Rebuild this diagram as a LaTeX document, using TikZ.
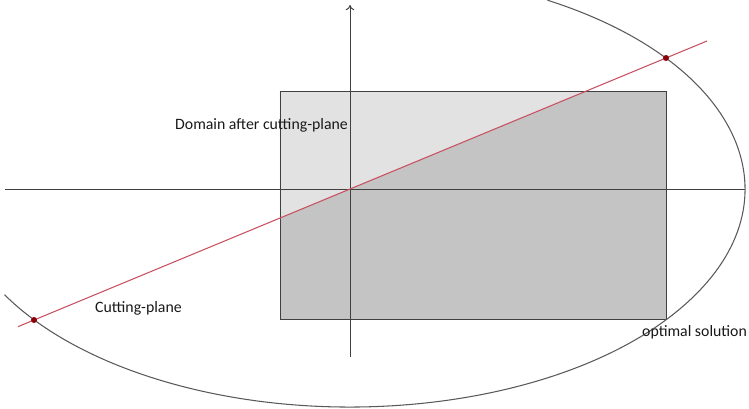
\documentclass[tikz,border=0pt]{standalone}
\usepackage{fontspec}
\setmainfont{Carlito}
\usepackage{tikz}
\usetikzlibrary{arrows.meta,positioning,calc}
\definecolor{axisgray}{RGB}{64,64,64}
\definecolor{cutred}{RGB}{200,80,95}
\definecolor{dotred}{RGB}{140,0,10}
\definecolor{domlight}{RGB}{226,226,226}
\definecolor{domdark}{RGB}{196,196,196}

\begin{document}
\begin{tikzpicture}[every node/.style={font=\fontsize{9}{11}\selectfont, text=black!90},
    axisline/.style={axisgray, line width=0.55pt},
    cutdot/.style={circle, fill=dotred, inner sep=0pt, minimum size=0.12cm}]
    \useasboundingbox (-7,-4.38) rectangle (7.98,3.78);
    \fill[domdark] (-1.4,-2.6) rectangle (6.32,1.96);
    \fill[domlight] (-1.4,-0.58) -- (-1.4,1.96) -- (4.73,1.96) -- cycle;
    \draw[axisgray, line width=0.5pt] (-1.4,-2.6) rectangle (6.32,1.96);
    \draw[axisline] (-6.9,0) -- (7.9,0);
    \draw[axisline, -{To[length=3pt,width=5pt]}] (0,-3.36) -- (0,3.68);
    \draw[black!65, line width=0.6pt] (60:7.9cm and 4.36cm) arc[start angle=60, end angle=-151, x radius=7.9, y radius=4.36];
    \coordinate (cutlow) at (-6.64,-2.753);
    \coordinate (cuthigh) at (7.14,2.96);
    \draw[cutred, line width=0.6pt] (cutlow) -- (cuthigh);
    \node[cutdot] (optdot) at (6.32,2.62) {};
    \node[cutdot] (lowdot) at (-6.32,-2.62) {};
    \node[anchor=west] (domain) at (-3.62,1.28) {Domain after cutting-plane};
    \node[anchor=west] (cutlabel) at (-5.22,-2.38) {Cutting-plane};
    \node[anchor=west] (optimal) at (5.72,-2.86) {optimal solution};
\end{tikzpicture}
\end{document}
